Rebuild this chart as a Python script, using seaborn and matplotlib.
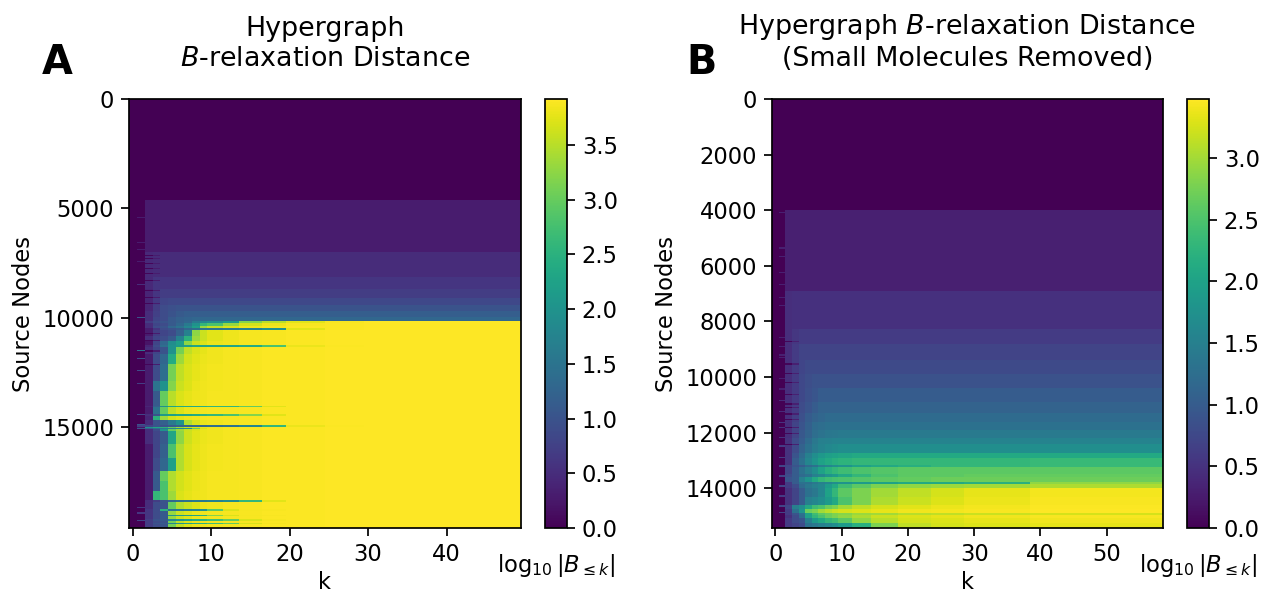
import numpy as np
import matplotlib
matplotlib.use("Agg")
import matplotlib.pyplot as plt
import seaborn as sns

plt.rcParams["font.size"] = 13

# nodes per image row when the bands get expanded
node_step = 10

# widths of the k columns in each table (small k one by one, later k grouped)
a_k_widths = [1, 1, 1, 1, 1, 1, 1, 1, 1, 1, 2, 2, 3, 3, 5, 5, 5, 15]
b_k_widths = [1, 1, 1, 1, 1, 1, 1, 1, 1, 1, 2, 3, 4, 5, 5, 10, 20]

# panel A: last source node of each band, then log10 size per k column
a_band_ends = [4630, 7000, 8150, 8700, 9100, 9400, 9700, 9950, 10140, 10260, 10400, 10490,
               10560, 10850, 11060, 11260, 11340, 11670, 12130, 12900, 13350, 14020, 14100,
               14400, 14480, 14700, 14900, 14980, 15040, 15100, 15190, 15800, 16410, 17020,
               17480, 17940, 18330, 18410, 18770, 18830, 19020, 19080, 19230, 19290,
               19390, 19450, 19620]
a_band_values = [
    [0, 0, 0, 0, 0, 0, 0, 0, 0, 0, 0, 0, 0, 0, 0, 0, 0, 0],
    [0, 0, .3, .3, .3, .3, .3, .3, .3, .3, .3, .3, .3, .3, .3, .3, .3, .3],
    [0, 0, .45, .48, .48, .48, .48, .48, .48, .48, .48, .48, .48, .48, .48, .48, .48, .48],
    [0, 0, .45, .6, .6, .6, .6, .6, .6, .6, .6, .6, .6, .6, .6, .6, .6, .6],
    [0, 0, .4, .6, .7, .7, .7, .7, .7, .7, .7, .7, .7, .7, .7, .7, .7, .7],
    [0, 0, .4, .65, .8, .85, .85, .85, .85, .85, .85, .85, .85, .85, .85, .85, .85, .85],
    [0, 0, .4, .7, .9, .95, 1.0, 1.0, 1.0, 1.0, 1.0, 1.0, 1.0, 1.0, 1.0, 1.0, 1.0, 1.0],
    [0, 0, .5, .75, .9, 1.0, 1.1, 1.15, 1.15, 1.15, 1.15, 1.15, 1.15, 1.15, 1.15, 1.15, 1.15, 1.15],
    [0, 0, .5, .8, .9, 1.1, 1.2, 1.25, 1.3, 1.3, 1.3, 1.3, 1.3, 1.3, 1.3, 1.3, 1.3, 1.3],
    [0, 0, .7, .9, 1.0, 1.1, 1.2, 1.3, 1.6, 1.8, 1.9, 2.1, 3.2, 3.5, 3.75, 3.88, 3.92, 3.92],
    [0, 0, .5, .8, .9, 1.1, 1.3, 1.6, 2.0, 2.6, 2.8, 3.3, 3.65, 3.8, 3.88, 3.9, 3.92, 3.92],
    [0, 0, .5, .9, 1.0, 1.3, 1.5, 1.8, 2.2, 3.3, 3.55, 3.7, 3.82, 3.86, 3.89, 3.9, 3.92, 3.92],
    [0, 0, .3, .6, .9, 1.0, 1.1, 1.3, 1.4, 1.5, 1.5, 1.6, 1.7, 2.0, 3.75, 3.9, 3.92, 3.92],
    [0, 0, .3, .7, .8, .9, 1.2, 1.7, 3.25, 3.6, 3.75, 3.82, 3.86, 3.88, 3.9, 3.91, 3.92, 3.92],
    [0, 0, .5, .8, .9, 1.1, 1.7, 2.5, 3.35, 3.6, 3.75, 3.82, 3.86, 3.88, 3.9, 3.91, 3.92, 3.92],
    [0, 0, .2, .8, 1.3, 1.9, 2.2, 3.25, 3.6, 3.72, 3.8, 3.84, 3.86, 3.88, 3.9, 3.91, 3.92, 3.92],
    [0, 0, .4, .9, 1.4, 2.0, 2.1, 2.2, 2.3, 2.3, 2.3, 2.3, 2.4, 2.8, 3.8, 3.9, 3.92, 3.92],
    [0, 0, .5, .8, 1.0, 2.0, 3.1, 3.55, 3.7, 3.78, 3.84, 3.86, 3.88, 3.89, 3.9, 3.91, 3.92, 3.92],
    [0, 0, .3, .9, 1.3, 2.4, 3.35, 3.65, 3.75, 3.8, 3.84, 3.86, 3.88, 3.89, 3.9, 3.91, 3.92, 3.92],
    [0, 0, .3, .9, 1.4, 3.1, 3.55, 3.7, 3.78, 3.82, 3.85, 3.87, 3.88, 3.89, 3.9, 3.91, 3.92, 3.92],
    [0, 0, .3, 1.5, 2.0, 3.2, 3.6, 3.72, 3.8, 3.83, 3.85, 3.87, 3.88, 3.89, 3.9, 3.91, 3.92, 3.92],
    [0, 0, .3, 1.1, 3.0, 3.5, 3.7, 3.78, 3.82, 3.84, 3.86, 3.87, 3.88, 3.89, 3.9, 3.91, 3.92, 3.92],
    [0, 0, .4, 1.2, 2.0, 2.3, 2.4, 2.4, 2.4, 2.5, 2.6, 2.6, 3.0, 3.75, 3.9, 3.91, 3.92, 3.92],
    [0, 0, .3, 1.5, 3.0, 3.55, 3.72, 3.8, 3.83, 3.85, 3.86, 3.87, 3.88, 3.89, 3.9, 3.91, 3.92, 3.92],
    [0, 0, .5, 1.0, 2.1, 2.2, 2.3, 2.3, 2.4, 2.5, 2.6, 2.8, 3.2, 3.75, 3.9, 3.91, 3.92, 3.92],
    [0, 0, .4, 2.5, 3.35, 3.65, 3.75, 3.8, 3.83, 3.85, 3.86, 3.87, 3.88, 3.89, 3.9, 3.91, 3.92, 3.92],
    [0, 0, .5, 1.0, 1.2, 1.6, 2.0, 3.45, 3.7, 3.8, 3.84, 3.86, 3.88, 3.89, 3.9, 3.91, 3.92, 3.92],
    [0, .7, .8, 1.0, 1.0, 1.1, 1.2, 1.2, 1.3, 1.3, 1.4, 1.5, 1.8, 2.6, 3.8, 3.9, 3.92, 3.92],
    [0, .2, 2.0, 2.3, 2.5, 3.0, 3.35, 3.6, 3.72, 3.8, 3.84, 3.86, 3.88, 3.89, 3.9, 3.91, 3.92, 3.92],
    [0, 1.0, 1.2, 1.4, 1.6, 1.7, 1.8, 1.9, 3.0, 3.7, 3.84, 3.86, 3.88, 3.89, 3.9, 3.91, 3.92, 3.92],
    [0, 0, .5, .9, 2.0, 3.0, 3.35, 3.6, 3.72, 3.8, 3.84, 3.86, 3.88, 3.89, 3.9, 3.91, 3.92, 3.92],
    [0, 0, .5, .8, 1.1, 2.3, 3.25, 3.62, 3.75, 3.8, 3.84, 3.86, 3.88, 3.89, 3.9, 3.91, 3.92, 3.92],
    [0, 0, .3, .8, 1.2, 2.8, 3.45, 3.68, 3.78, 3.82, 3.85, 3.87, 3.88, 3.89, 3.9, 3.91, 3.92, 3.92],
    [0, 0, .3, .9, 1.3, 2.2, 3.45, 3.68, 3.78, 3.82, 3.85, 3.87, 3.88, 3.89, 3.9, 3.91, 3.92, 3.92],
    [0, 0, .3, 1.1, 3.0, 3.45, 3.65, 3.75, 3.8, 3.84, 3.86, 3.87, 3.88, 3.89, 3.9, 3.91, 3.92, 3.92],
    [0, 0, .3, 1.1, 2.8, 3.45, 3.65, 3.75, 3.8, 3.84, 3.86, 3.87, 3.88, 3.89, 3.9, 3.91, 3.92, 3.92],
    [0, 0, .3, 2.6, 2.8, 3.35, 3.7, 3.78, 3.82, 3.84, 3.86, 3.87, 3.88, 3.89, 3.9, 3.91, 3.92, 3.92],
    [0, 0, .5, .7, 1.0, 1.3, 1.4, 1.5, 1.6, 1.6, 1.7, 1.9, 2.6, 3.75, 3.9, 3.91, 3.92, 3.92],
    [0, 0, .5, .9, 1.0, 3.0, 3.45, 3.6, 3.72, 3.8, 3.84, 3.86, 3.88, 3.89, 3.9, 3.91, 3.92, 3.92],
    [0, 0, .6, .9, 2.5, 1.5, 1.6, 1.7, 1.8, 2.0, 2.9, 3.7, 3.86, 3.88, 3.9, 3.91, 3.92, 3.92],
    [0, 0, .6, .9, 1.1, 3.3, 3.6, 3.72, 3.8, 3.83, 3.85, 3.87, 3.88, 3.89, 3.9, 3.91, 3.92, 3.92],
    [0, 0, .6, .9, 1.1, 2.0, 2.1, 2.2, 2.3, 2.5, 3.2, 3.7, 3.86, 3.88, 3.9, 3.91, 3.92, 3.92],
    [0, 0, .6, .9, 1.1, 3.3, 3.6, 3.72, 3.8, 3.83, 3.85, 3.87, 3.88, 3.89, 3.9, 3.91, 3.92, 3.92],
    [0, 0, .7, 1.0, 1.1, 1.8, 2.0, 2.2, 2.4, 2.5, 2.7, 3.0, 3.7, 3.86, 3.9, 3.91, 3.92, 3.92],
    [0, 0, .7, .9, 1.0, 3.1, 3.55, 3.72, 3.8, 3.83, 3.85, 3.87, 3.88, 3.89, 3.9, 3.91, 3.92, 3.92],
    [0, 0, .7, 1.0, 1.1, 1.8, 2.0, 2.2, 2.4, 2.5, 2.7, 3.0, 3.7, 3.86, 3.9, 3.91, 3.92, 3.92],
    [0, 0, .7, .9, 1.0, 3.1, 3.55, 3.72, 3.8, 3.83, 3.85, 3.87, 3.88, 3.89, 3.9, 3.91, 3.92, 3.92],
]

# single rows where k=1 already has a value
a_tick_nodes = [5380, 6520, 6870, 7390, 8460, 9950, 11480, 11860, 12390, 12970, 14400, 14860, 18640, 18910, 19250]
a_tick_values = [.3, .3, .3, .3, .48, 1.0, 1.5, .9, .9, .7, .8, 1.0, .6, .6, .8]
# single rows where k=2 is still empty
a_notch_nodes = [7130, 7290, 7480, 7740, 7970, 8280, 8730, 9040, 9340, 10700, 11000, 11500, 12100]

# panel B, same layout as panel A
b_band_ends = [3990, 6900, 8265, 8500, 8800, 9400, 9900, 10400, 10900, 11300, 11600, 11900,
               12200, 12400, 12750, 12900, 13150, 13250, 13500, 13580, 13760, 13850, 13980,
               14300, 14600, 14750, 14900, 14980, 15070, 15240, 15430]
b_band_values = [
    [0, 0, 0, 0, 0, 0, 0, 0, 0, 0, 0, 0, 0, 0, 0, 0, 0],
    [0, 0, .3, .3, .3, .3, .3, .3, .3, .3, .3, .3, .3, .3, .3, .3, .3],
    [0, 0, .45, .48, .48, .48, .48, .48, .48, .48, .48, .48, .48, .48, .48, .48, .48],
    [0, 0, .45, .55, .6, .6, .6, .6, .6, .6, .6, .6, .6, .6, .6, .6, .6],
    [0, 0, .45, .55, .6, .6, .6, .6, .6, .6, .6, .6, .6, .6, .6, .6, .6],
    [0, 0, .45, .6, .7, .7, .7, .7, .7, .7, .7, .7, .7, .7, .7, .7, .7],
    [0, 0, .45, .6, .72, .78, .78, .78, .78, .78, .78, .78, .78, .78, .78, .78, .78],
    [0, 0, .45, .6, .75, .82, .88, .88, .88, .88, .88, .88, .88, .88, .88, .88, .88],
    [0, 0, .45, .6, .75, .85, .92, 1.0, 1.0, 1.0, 1.0, 1.0, 1.0, 1.0, 1.0, 1.0, 1.0],
    [0, 0, .45, .6, .8, .9, 1.0, 1.1, 1.1, 1.1, 1.1, 1.1, 1.1, 1.1, 1.1, 1.1, 1.1],
    [0, 0, .45, .65, .85, 1.0, 1.1, 1.15, 1.2, 1.2, 1.2, 1.2, 1.2, 1.2, 1.2, 1.2, 1.2],
    [0, 0, .45, .7, .9, 1.05, 1.2, 1.25, 1.3, 1.3, 1.3, 1.3, 1.3, 1.3, 1.3, 1.3, 1.3],
    [0, 0, .45, .7, .95, 1.1, 1.25, 1.33, 1.38, 1.4, 1.42, 1.42, 1.42, 1.42, 1.42, 1.42, 1.42],
    [0, 0, .5, .8, 1.0, 1.2, 1.4, 1.5, 1.52, 1.55, 1.55, 1.55, 1.55, 1.55, 1.55, 1.55, 1.55],
    [0, 0, .5, .8, 1.1, 1.3, 1.45, 1.55, 1.62, 1.66, 1.7, 1.7, 1.7, 1.7, 1.7, 1.7, 1.7],
    [0, 0, .5, .9, 1.2, 1.5, 1.7, 1.85, 1.95, 2.0, 2.05, 2.1, 2.1, 2.1, 2.1, 2.1, 2.1],
    [0, 0, .5, 1.0, 1.3, 1.6, 1.8, 2.0, 2.1, 2.2, 2.25, 2.3, 2.3, 2.3, 2.3, 2.3, 2.35],
    [0, 0, .7, .9, 1.0, 1.2, 1.3, 1.5, 1.6, 1.7, 1.8, 2.0, 2.1, 2.2, 2.3, 2.3, 2.35],
    [0, 0, .7, 1.0, 1.3, 1.5, 1.7, 2.0, 2.2, 2.3, 2.4, 2.5, 2.55, 2.6, 2.6, 2.6, 2.6],
    [0, 0, .8, 1.0, 1.2, 1.3, 1.5, 1.6, 1.8, 1.9, 2.1, 2.3, 2.5, 2.6, 2.6, 2.65, 2.65],
    [0, 0, .9, 1.0, 1.5, 1.8, 2.1, 2.3, 2.4, 2.45, 2.5, 2.55, 2.6, 2.65, 2.7, 2.7, 2.7],
    [0, 0, .6, 1.0, 1.3, 1.3, 1.4, 1.5, 1.6, 1.7, 1.8, 1.9, 2.0, 2.1, 2.1, 2.2, 2.9],
    [0, 0, .6, .8, 1.2, 1.4, 1.5, 1.6, 1.9, 2.1, 2.4, 2.6, 2.8, 2.9, 2.95, 3.0, 3.05],
    [0, 0, .5, .7, 1.0, 1.3, 1.4, 1.6, 2.0, 2.3, 2.6, 2.8, 3.0, 3.15, 3.25, 3.35, 3.42],
    [0, 0, .5, .7, 1.0, 1.5, 1.6, 1.7, 1.9, 2.1, 2.5, 2.8, 3.05, 3.2, 3.3, 3.38, 3.44],
    [0, 0, .7, 1.5, 1.7, 2.1, 2.4, 2.5, 2.7, 2.8, 3.0, 3.15, 3.25, 3.33, 3.38, 3.42, 3.46],
    [0, 0, .6, 1.3, 1.8, 2.7, 2.8, 3.0, 3.1, 3.2, 3.25, 3.3, 3.35, 3.4, 3.42, 3.45, 3.48],
    [0, 0, .6, .9, 1.3, 2.0, 2.4, 2.6, 2.7, 2.8, 2.85, 2.95, 3.0, 3.1, 3.15, 3.2, 3.25],
    [0, 0, .5, .8, 1.2, 2.0, 2.3, 2.5, 2.7, 2.8, 2.9, 3.05, 3.2, 3.3, 3.35, 3.4, 3.44],
    [0, 0, .6, .8, .9, 1.5, 1.9, 2.1, 2.3, 2.4, 2.6, 2.9, 3.1, 3.25, 3.3, 3.35, 3.4],
    [0, 0, .6, .7, .8, 1.3, 1.4, 1.5, 1.6, 1.7, 1.9, 2.2, 2.8, 3.15, 3.25, 3.3, 3.35],
]

b_tick_nodes = [4050, 5340, 5650, 6210, 6650, 7110, 7410, 8550, 8870, 9180, 9270, 10030, 10400,
                10810, 11220, 11610, 11790, 12150, 12450, 12870, 13170, 13530, 13890, 14250, 14610, 14850]
b_tick_values = [.3, .3, .3, .3, .3, .3, .3, .3, .3, .3, .3, .3, .3,
                 .4, .4, .5, .5, .5, .6, .6, .7, .7, .7, .6, .7, .7]
b_notch_nodes = [8700, 9510, 9850, 10170, 10600, 10950, 11080, 11300, 11500, 11800, 12000, 12400]

a_xticks = [0, 10, 20, 30, 40]
a_yticks = [0, 5000, 10000, 15000]
a_cbar_ticks = [0.0, 0.5, 1.0, 1.5, 2.0, 2.5, 3.0, 3.5]
b_xticks = [0, 10, 20, 30, 40, 50]
b_yticks = [0, 2000, 4000, 6000, 8000, 10000, 12000, 14000]
b_cbar_ticks = [0.0, 0.5, 1.0, 1.5, 2.0, 2.5, 3.0]


def expand(band_ends, band_values, k_widths, tick_nodes, tick_values, notch_nodes):
    # turn the band table into one row per node_step nodes
    rows = np.round(np.array([0] + band_ends) / node_step).astype(int)
    table = np.repeat(np.array(band_values, dtype=float), k_widths, axis=1)
    grid = np.repeat(table, np.diff(rows), axis=0)
    for n, v in zip(tick_nodes, tick_values):
        r = n // node_step
        grid[r:r + 5, 1] = v
    for n in notch_nodes:
        r = n // node_step
        grid[r:r + 5, 2:4] = [0.05, 0.3]
    return grid


def px_rect(r):
    # left, top, right, bottom in image pixels
    return [r[0] / 1262, 1 - r[3] / 594, (r[2] - r[0]) / 1262, (r[3] - r[1]) / 594]


def panel(rect, cbar_rect, grid, vmax, xticks, yticks, cbar_ticks, title):
    ax = fig.add_axes(px_rect(rect))
    cax = fig.add_axes(px_rect(cbar_rect))
    sns.heatmap(grid, ax=ax, cbar_ax=cax, cmap="viridis", vmin=0, vmax=vmax,
                xticklabels=False, yticklabels=False)
    ax.set_xticks([k + 0.5 for k in xticks])
    ax.set_xticklabels(xticks, rotation=0)
    ax.set_yticks([n / node_step for n in yticks])
    ax.set_yticklabels(yticks, rotation=0)
    ax.tick_params(bottom=True, left=True, length=4.5, width=1, pad=4)
    for s in ax.spines.values():
        s.set_visible(True)
        s.set_linewidth(1)
    ax.set_xlabel("k", labelpad=3)
    ax.set_ylabel("Source Nodes", labelpad=4)
    ax.set_title(title, fontsize=15.5, pad=19)

    cb = ax.collections[0].colorbar
    cb.set_ticks(cbar_ticks)
    cb.outline.set_visible(True)
    cb.outline.set_linewidth(1)
    cax.tick_params(length=4.5, width=1, pad=4)
    cax.set_xlabel(r"$\log_{10}|B_{\leq k}|$", labelpad=14)
    return ax


fig = plt.figure(figsize=(1262 / 125, 594 / 125), dpi=125)

grid_a = expand(a_band_ends, a_band_values, a_k_widths, a_tick_nodes, a_tick_values, a_notch_nodes)
grid_b = expand(b_band_ends, b_band_values, b_k_widths, b_tick_nodes, b_tick_values, b_notch_nodes)

panel((129, 99, 521, 528), (545, 99, 567, 528), grid_a, 3.92, a_xticks, a_yticks,
      a_cbar_ticks, "Hypergraph\n" + r"$\mathit{B}$-relaxation Distance")
panel((772, 99, 1163, 528), (1187, 99, 1209, 528), grid_b, 3.48, b_xticks, b_yticks,
      b_cbar_ticks, r"Hypergraph $\mathit{B}$-relaxation Distance" + "\n(Small Molecules Removed)")

fig.text(42 / 1262, 1 - 74 / 594, "A", fontsize=23, fontweight="bold")
fig.text(686 / 1262, 1 - 74 / 594, "B", fontsize=23, fontweight="bold")

fig.savefig("out.png", dpi=125)
